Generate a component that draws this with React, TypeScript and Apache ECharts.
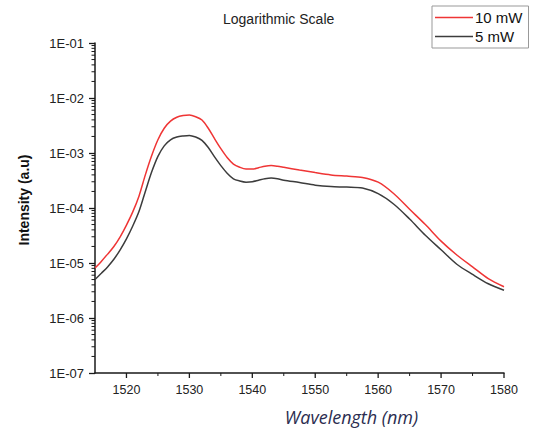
import React, { useEffect, useRef } from "react";
import * as echarts from "echarts";

const wavelengths = [
  1515, 1516, 1517, 1518, 1519, 1520, 1521, 1522, 1523, 1524, 1525, 1526, 1527, 1528, 1529, 1530,
  1531, 1532, 1533, 1534, 1535, 1536, 1537, 1538, 1539, 1540, 1541, 1542, 1543, 1544, 1545,
  1547.5, 1550, 1552.5, 1555, 1557.5, 1560, 1562.5, 1565, 1567.5, 1570, 1572.5, 1575, 1577.5, 1580,
];

const red10mW = [
  8.1e-6, 1.07e-5, 1.45e-5, 2.0e-5, 3.0e-5, 4.9e-5, 8.5e-5, 1.66e-4, 4.0e-4, 8.9e-4, 1.74e-3, 2.82e-3, 3.8e-3, 4.47e-3, 4.79e-3, 4.9e-3,
  4.57e-3, 3.98e-3, 2.82e-3, 1.82e-3, 1.2e-3, 8.3e-4, 6.3e-4, 5.5e-4, 5.1e-4, 5.1e-4, 5.4e-4, 5.75e-4, 5.9e-4, 5.75e-4, 5.5e-4,
  4.9e-4, 4.4e-4, 4.0e-4, 3.8e-4, 3.6e-4, 2.95e-4, 1.82e-4, 9.5e-5, 5.0e-5, 2.5e-5, 1.4e-5, 8.5e-6, 5.2e-6, 3.7e-6,
];

const black5mW = [
  5.0e-6, 6.5e-6, 8.5e-6, 1.17e-5, 1.74e-5, 2.75e-5, 4.7e-5, 8.7e-5, 2.0e-4, 4.5e-4, 8.7e-4, 1.35e-3, 1.74e-3, 1.95e-3, 2.04e-3, 2.09e-3,
  1.95e-3, 1.7e-3, 1.26e-3, 8.5e-4, 5.9e-4, 4.3e-4, 3.4e-4, 3.1e-4, 2.95e-4, 3.0e-4, 3.2e-4, 3.4e-4, 3.5e-4, 3.4e-4, 3.2e-4,
  2.9e-4, 2.6e-4, 2.45e-4, 2.4e-4, 2.3e-4, 1.82e-4, 1.17e-4, 6.3e-5, 3.2e-5, 1.74e-5, 9.5e-6, 6.2e-6, 4.2e-6, 3.2e-6,
];

const xTicks = [1520, 1530, 1540, 1550, 1560, 1570, 1580];
const xMinorTicks = [1525, 1535, 1545, 1555, 1565, 1575];
const yTickLabels: Record<string, string> = {
  "-7": "1E-07", "-6": "1E-06", "-5": "1E-05", "-4": "1E-04", "-3": "1E-03", "-2": "1E-02", "-1": "1E-01",
};
const yMinorTicks = [
  2e-7, 3e-7, 4e-7, 5e-7, 6e-7, 7e-7, 8e-7, 9e-7,
  2e-6, 3e-6, 4e-6, 5e-6, 6e-6, 7e-6, 8e-6, 9e-6,
  2e-5, 3e-5, 4e-5, 5e-5, 6e-5, 7e-5, 8e-5, 9e-5,
  2e-4, 3e-4, 4e-4, 5e-4, 6e-4, 7e-4, 8e-4, 9e-4,
  2e-3, 3e-3, 4e-3, 5e-3, 6e-3, 7e-3, 8e-3, 9e-3,
  2e-2, 3e-2, 4e-2, 5e-2, 6e-2, 7e-2, 8e-2, 9e-2,
];

const X_MIN = 1515;
const X_MAX = 1580;
const Y_MIN = 1e-7;
const Y_MAX = 1e-1;

const axisColor = "#1a1a1a";

function tickSeries(name: string, data: number[][], dx: number, dy: number, width: number) {
  return {
    name,
    type: "custom",
    clip: false,
    silent: true,
    z: 5,
    data,
    renderItem: (params: any, api: any) => {
      const p = api.coord([api.value(0), api.value(1)]);
      return {
        type: "line",
        shape: { x1: p[0], y1: p[1], x2: p[0] + dx, y2: p[1] + dy },
        style: { stroke: axisColor, lineWidth: width },
      };
    },
  };
}

export default function App() {
  const ref = useRef<HTMLDivElement>(null);
  useEffect(() => {
    document.body.style.margin = "0";
    const chart = echarts.init(ref.current!, undefined, { renderer: "svg" });
    const labelFont = "'Liberation Sans', Arial, sans-serif";
    chart.setOption({
      animation: false,
      backgroundColor: "#fff",
      title: {
        text: "Logarithmic Scale",
        left: 218,
        top: 7,
        textStyle: { fontFamily: labelFont, fontSize: 14, fontWeight: "normal", color: "#222" },
      },
      legend: {
        orient: "vertical",
        left: 432,
        top: 6,
        padding: [4, 6, 4, 3],
        borderColor: "#999",
        borderWidth: 1,
        itemGap: 4,
        itemWidth: 38,
        itemHeight: 1.5,
        icon: "rect",
        data: ["10 mW", "5 mW"],
        textStyle: { fontFamily: labelFont, fontSize: 15, color: "#111", padding: [0, 0, 0, -3] },
      },
      grid: { left: 95, right: 36, top: 43, bottom: 60, containLabel: false },
      xAxis: {
        type: "value",
        min: X_MIN,
        max: X_MAX,
        name: "Wavelength (nm)",
        nameLocation: "middle",
        nameGap: 35,
        nameTextStyle: {
          fontFamily: "'Open Sans', sans-serif",
          fontStyle: "italic",
          fontSize: 18,
          color: "#2b2d50",
          padding: [0, 0, 0, 104],
        },
        axisLine: { show: true, lineStyle: { color: axisColor, width: 1.5 } },
        axisTick: { show: false },
        axisLabel: {
          customValues: xTicks,
          margin: 10,
          fontFamily: labelFont,
          fontSize: 12.5,
          color: "#222",
          formatter: (v: number) => String(v),
        },
        splitLine: { show: false },
      },
      yAxis: {
        type: "log",
        logBase: 10,
        min: Y_MIN,
        max: Y_MAX,
        name: "Intensity (a.u)",
        nameLocation: "middle",
        nameGap: 64,
        nameTextStyle: {
          fontFamily: labelFont,
          fontSize: 14,
          fontWeight: "bold",
          color: "#111",
          padding: [0, 0, 0, 16],
        },
        axisLine: { show: true, lineStyle: { color: axisColor, width: 1.5 } },
        axisTick: { show: true, length: 6, lineStyle: { color: axisColor, width: 1.3 } },
        axisLabel: {
          margin: 11,
          fontFamily: labelFont,
          fontSize: 13,
          color: "#222",
          formatter: (v: number) => yTickLabels[String(Math.round(Math.log10(v)))] ?? "",
        },
        splitLine: { show: false },
      },
      series: [
        {
          name: "10 mW",
          type: "line",
          data: wavelengths.map((w, i) => [w, red10mW[i]]),
          smooth: 0.3,
          symbol: "none",
          lineStyle: { color: "#ef3535", width: 1.5 },
          itemStyle: { color: "#ef3535" },
          z: 3,
        },
        {
          name: "5 mW",
          type: "line",
          data: wavelengths.map((w, i) => [w, black5mW[i]]),
          smooth: 0.3,
          symbol: "none",
          lineStyle: { color: "#3c3c3c", width: 1.5 },
          itemStyle: { color: "#3c3c3c" },
          z: 3,
        },
        tickSeries("yMinorTicks", yMinorTicks.map((v) => [X_MIN, v]), -3.5, 0, 1),
        tickSeries("xMajorTicks", xTicks.map((t) => [t, Y_MIN]), 0, 5, 1.3),
        tickSeries("xMinorTicks", xMinorTicks.map((t) => [t, Y_MIN]), 0, 3, 1),
      ],
    });
    return () => chart.dispose();
  }, []);
  return <div ref={ref} style={{ width: 540, height: 433 }} />;
}
